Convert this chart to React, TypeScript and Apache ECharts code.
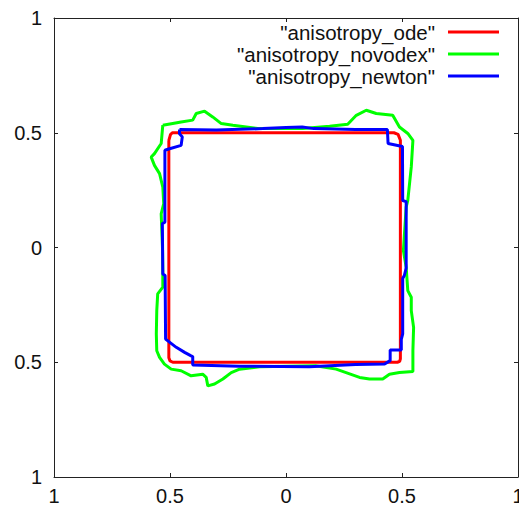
import React, { useEffect, useRef } from "react";
import * as echarts from "echarts";

const tickValues = [-1, -0.5, 0, 0.5, 1];
const seriesNames = ['"anisotropy_ode"', '"anisotropy_novodex"', '"anisotropy_newton"'];
const seriesColors = ["#ff0000", "#00ff00", "#0000ff"];

const odePoints = [
  [-0.505, 0.467], [-0.498, 0.492], [-0.49, 0.5], [0.465, 0.5], [0.483, 0.493],
  [0.493, 0.467], [0.493, -0.485], [0.49, -0.496], [0.48, -0.5], [-0.488, -0.5],
  [-0.5, -0.494], [-0.505, -0.48], [-0.505, 0.467],
];

const novodexPoints = [
  [-0.531, 0.533], [-0.452, 0.547], [-0.402, 0.555], [-0.387, 0.584], [-0.351, 0.594],
  [-0.316, 0.569], [-0.279, 0.54], [-0.229, 0.533], [-0.114, 0.518], [0.072, 0.518],
  [0.188, 0.528], [0.266, 0.537], [0.303, 0.576], [0.346, 0.598], [0.389, 0.584],
  [0.46, 0.576], [0.489, 0.525], [0.525, 0.497], [0.547, 0.467], [0.54, 0.351],
  [0.525, 0.205], [0.518, 0.176], [0.506, -0.013], [0.518, -0.086], [0.525, -0.188],
  [0.54, -0.217], [0.54, -0.275], [0.55, -0.348], [0.547, -0.45], [0.547, -0.54],
  [0.489, -0.545], [0.446, -0.552], [0.417, -0.573], [0.36, -0.573], [0.317, -0.566],
  [0.259, -0.545], [0.216, -0.53], [0.127, -0.515], [-0.114, -0.52], [-0.2, -0.53],
  [-0.236, -0.545], [-0.272, -0.573], [-0.308, -0.595], [-0.337, -0.603], [-0.344, -0.566],
  [-0.359, -0.552], [-0.409, -0.559], [-0.452, -0.537], [-0.495, -0.53], [-0.524, -0.508],
  [-0.545, -0.479], [-0.557, -0.45], [-0.559, -0.377], [-0.557, -0.275], [-0.553, -0.202],
  [-0.531, -0.173], [-0.531, -0.1], [-0.532, -0.013], [-0.538, 0.147], [-0.527, 0.191],
  [-0.531, 0.263], [-0.545, 0.322], [-0.567, 0.358], [-0.581, 0.394], [-0.567, 0.409],
  [-0.538, 0.453], [-0.531, 0.533],
];

const newtonPoints = [
  [-0.459, 0.514], [-0.3, 0.512], [-0.1, 0.518], [0.0, 0.523], [0.07, 0.525],
  [0.12, 0.518], [0.3, 0.514], [0.437, 0.514], [0.44, 0.453], [0.502, 0.44],
  [0.503, 0.205], [0.518, 0.2], [0.518, -0.09], [0.51, -0.122], [0.503, -0.135],
  [0.503, -0.376], [0.497, -0.4], [0.497, -0.447], [0.449, -0.447], [0.449, -0.493],
  [0.425, -0.508], [0.3, -0.51], [0.1, -0.52], [-0.2, -0.517], [-0.402, -0.512],
  [-0.402, -0.475], [-0.409, -0.472], [-0.437, -0.457], [-0.473, -0.435], [-0.519, -0.399],
  [-0.521, -0.122], [-0.531, -0.115], [-0.533, 0.104], [-0.522, 0.11], [-0.522, 0.424],
  [-0.509, 0.428], [-0.452, 0.445], [-0.447, 0.482], [-0.459, 0.496], [-0.459, 0.514],
];

const seriesData = [odePoints, novodexPoints, newtonPoints];

export default function App() {
  const ref = useRef<HTMLDivElement>(null);
  useEffect(() => {
    document.body.style.margin = "0";
    const chart = echarts.init(ref.current!, null, { renderer: "svg" });
    const font = '"Liberation Sans", Arial, sans-serif';
    const fmt = (v: number) => String(Math.abs(v));
    const min = tickValues[0];
    const max = tickValues[tickValues.length - 1];
    const interval = tickValues[1] - tickValues[0];
    const axisBase = (extra: any) => ({
      type: "value",
      min,
      max,
      interval,
      splitLine: { show: false },
      axisLine: { show: true, onZero: false, lineStyle: { color: "#222", width: 1 } },
      axisTick: { show: true, inside: true, length: 4, lineStyle: { color: "#222" } },
      ...extra,
    });
    const legendRowsY = [32, 54, 76];
    const graphic: any[] = [];
    seriesNames.forEach((name, i) => {
      graphic.push({
        type: "text",
        x: 435,
        y: legendRowsY[i],
        style: {
          text: name,
          fill: "#111",
          font: `20.5px ${font}`,
          textAlign: "right",
          textVerticalAlign: "middle",
        },
      });
      graphic.push({
        type: "line",
        shape: { x1: 448, y1: legendRowsY[i], x2: 499, y2: legendRowsY[i] },
        style: { stroke: seriesColors[i], lineWidth: 3 },
      });
    });
    chart.setOption({
      animation: false,
      grid: { left: 54, right: 1, top: 18, bottom: 33, containLabel: false, outerBoundsMode: "none" },
      xAxis: [
        axisBase({
          position: "bottom",
          axisLabel: { formatter: fmt, color: "#111", fontSize: 20, fontFamily: font, margin: 9 },
        }),
        axisBase({ position: "top", axisLabel: { show: false } }),
      ],
      yAxis: [
        axisBase({
          position: "left",
          axisLabel: { formatter: fmt, color: "#111", fontSize: 20, fontFamily: font, margin: 12 },
        }),
        axisBase({ position: "right", axisLabel: { show: false } }),
      ],
      series: seriesNames.map((name, i) => ({
        name,
        type: "line",
        data: seriesData[i],
        showSymbol: false,
        symbol: "none",
        lineStyle: { color: seriesColors[i], width: 3 },
        itemStyle: { color: seriesColors[i] },
        z: 2 + i,
      })),
      graphic,
    });
    return () => chart.dispose();
  }, []);
  return <div ref={ref} style={{ width: 519, height: 510 }} />;
}
